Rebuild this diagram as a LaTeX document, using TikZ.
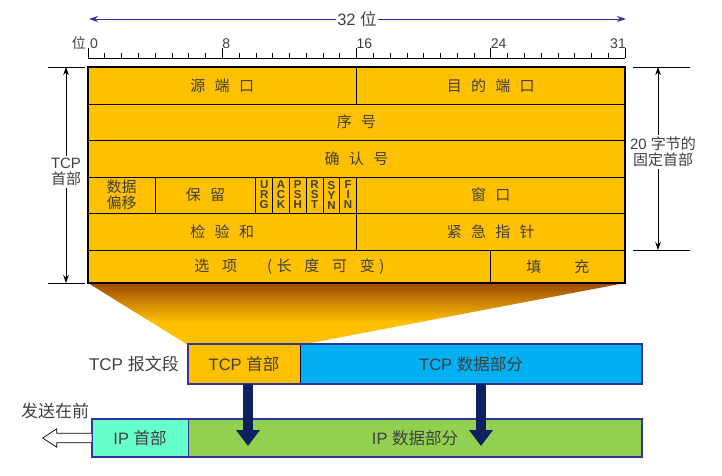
\documentclass[tikz,border=0pt]{standalone}
\usepackage{fontspec}
\setmainfont{Liberation Sans}
\newfontfamily\cjk{Noto Sans CJK SC}
\usetikzlibrary{arrows.meta}

\definecolor{hdrgold}{HTML}{FFC000}
\definecolor{txtgray}{HTML}{404040}
\definecolor{rulenavy}{HTML}{333399}
\definecolor{tcpblue}{HTML}{00B0F0}
\definecolor{ipmint}{HTML}{66FFCC}
\definecolor{ipgreen}{HTML}{92D050}
\definecolor{dkbrown}{HTML}{9C4A06}
\definecolor{arrownavy}{HTML}{0D2160}

% letter spacing between CJK characters
\newcommand\gap{\hspace{0.62em}}
\newcommand\widegap{\hspace{0.85em}}
% one header field: name, x1, y1, x2, y2, text
\newcommand\tcpfield[6]{%
  \node[field, minimum width={#4-#2}, minimum height={#5-#3}]
    (#1) at ({(#2+#4)/2},{(#3+#5)/2}) {#6};}

\tikzset{
  field/.style={draw=black, line width=0.7pt, fill=hdrgold, inner sep=0pt,
    text=txtgray, font=\cjk\fontsize{15}{17}\selectfont},
  flag/.style={field, align=center,
    font=\bfseries\fontsize{11.5}{10}\selectfont},
  label/.style={text=txtgray, inner sep=1pt, font=\fontsize{15}{16}\selectfont},
  seg/.style={draw=black, line width=0.6pt, inner sep=0pt, text=txtgray,
    font=\fontsize{16.5}{18}\selectfont},
  dim/.style={black, line width=0.6pt},
  dimtip/.style={-{Stealth[length=8pt,width=5.5pt]}, black, line width=0.6pt},
  downarrow/.style={arrownavy, line width=10pt,
    -{Triangle[length=16pt,width=23pt]}},
}

\begin{document}
\begin{tikzpicture}[x=1pt,y=-1pt]
\useasboundingbox (0,0) rectangle (722,475);

% width ruler
\node[label, font=\fontsize{16.5}{18}\selectfont] (width) at (357,19) {32 \cjk 位};
\coordinate (wl) at (89,19);
\coordinate (wr) at (626,19);
\draw[rulenavy, line width=0.9pt, -{Stealth[length=9pt,width=6pt]}] (width.west) -- (wl);
\draw[rulenavy, line width=0.9pt, -{Stealth[length=9pt,width=6pt]}] (width.east) -- (wr);

\draw[line width=0.6pt] (88,58) -- (625,58);
\foreach \i in {0,...,32}{
  \draw[line width=0.6pt] ({88+\i*16.78125},58) -- ++(0,-5);
}
\foreach \i in {0,8,16,24,32}{
  \draw[line width=0.6pt] ({88+\i*16.78125},58) -- ++(0,-10);
}
\node[label, anchor=south west, font=\fontsize{14}{15}\selectfont] (b0) at (89,50) {0};
\node[label, anchor=south west, font=\fontsize{14}{15}\selectfont] (b8) at ({87+8*16.78125},50) {8};
\node[label, anchor=south west, font=\fontsize{14}{15}\selectfont] (b16) at ({87+16*16.78125},50) {16};
\node[label, anchor=south west, font=\fontsize{14}{15}\selectfont] (b24) at ({87+24*16.78125},50) {24};
\node[label, anchor=south east, font=\fontsize{14}{15}\selectfont] (b31) at (627,50) {31};
\node[label, anchor=south east, font=\cjk\fontsize{14}{15}\selectfont] (bitword) at (87,51) {位};

% funnel from the header down to the segment header
\coordinate (fl) at (188,345);
\coordinate (fr) at (300,345);
\begin{scope}
  \clip (88,283) -- (625,283) -- (fr) -- (fl) -- cycle;
  \shade[top color=dkbrown, bottom color=hdrgold] (88,283) rectangle (625,322);
  \fill[hdrgold] (88,321.5) rectangle (625,346);
\end{scope}

% TCP header fields
\tcpfield{sport}{88}{67}{356.5}{104}{源\gap 端\gap 口}
\tcpfield{dport}{356.5}{67}{625}{104}{目\gap 的\gap 端\gap 口}
\tcpfield{seq}{88}{104}{625}{140}{序\gap 号}
\tcpfield{ack}{88}{140}{625}{177}{确\gap 认\gap 号}
\node[field, align=center, minimum width={155.1-88}, minimum height=36,
  font=\cjk\fontsize{15}{16.5}\selectfont]
  (off) at ({(88+155.1)/2},195) {数据\\偏移};
\tcpfield{rsv}{155.1}{177}{255.8}{213}{保\gap 留}
\node[flag, minimum width=16.8, minimum height=36] (urg) at (264.2,195) {U\\R\\G};
\node[flag, minimum width=16.8, minimum height=36] (ackf) at (281.0,195) {A\\C\\K};
\node[flag, minimum width=16.8, minimum height=36] (psh) at (297.8,195) {P\\S\\H};
\node[flag, minimum width=16.8, minimum height=36] (rst) at (314.6,195) {R\\S\\T};
\node[flag, minimum width=16.8, minimum height=36] (syn) at (331.4,195) {S\\Y\\N};
\node[flag, minimum width=16.8, minimum height=36] (fin) at (348.1,195) {F\\I\\N};
\tcpfield{win}{356.5}{177}{625}{213}{窗\gap 口}
\tcpfield{chk}{88}{213}{356.5}{250}{检\gap 验\gap 和}
\tcpfield{urp}{356.5}{213}{625}{250}{紧\gap 急\gap 指\gap 针}
\tcpfield{opt}{88}{250}{490.8}{283}%
  {选\widegap 项\hspace{2em}(\hspace{0.3em}长\widegap 度\widegap 可\widegap 变\hspace{0.3em})}
\tcpfield{pad}{490.8}{250}{625}{283}{填\hspace{2.2em}充}

% outer frame of the header
\node[draw=black, line width=2pt, inner sep=0pt, minimum width=537,
  minimum height=216] (hdr) at (356.5,175) {};

% header length dimensions
\draw[dim] (48,67) -- (85,67);
\draw[dim] (48,283) -- (85,283);
\node[label, align=center, fill=white, inner sep=2pt] (hlen) at (66,172) {TCP\\\cjk 首部};
\coordinate (hlt) at (66,67);
\coordinate (hlb) at (66,283);
\draw[dimtip] (hlen.north) -- (hlt);
\draw[dimtip] (hlen.south) -- (hlb);

\draw[dim] (633,67) -- (690,67);
\draw[dim] (633,250) -- (690,250);
\node[label, align=center, fill=white, inner sep=2pt] (flen) at (663,152)
  {20 {\cjk 字节的}\\\cjk 固定首部};
\coordinate (flt) at (658,67);
\coordinate (flb) at (658,250);
\draw[dimtip] (flen.north -| flt) -- (flt);
\draw[dimtip] (flen.south -| flb) -- (flb);

% TCP segment
\node[seg, fill=hdrgold, minimum width=112, minimum height=40] (tcph) at (244,364) {TCP \cjk 首部};
\node[seg, fill=tcpblue, minimum width=342, minimum height=40] (tcpd) at (471,364) {TCP \cjk 数据部分};
\draw[rulenavy, line width=1.8pt] (tcph.north west) rectangle (tcpd.south east);
\node[label, anchor=east, font=\fontsize{17}{18}\selectfont] (seglabel) at (180,364) {TCP \cjk 报文段};

% IP datagram
\node[seg, fill=ipmint, minimum width=96, minimum height=38] (iph) at (140,438) {IP \cjk 首部};
\node[seg, fill=ipgreen, minimum width=454, minimum height=38] (ipd) at (415,438) {IP \cjk 数据部分};
\draw[rulenavy, line width=1.4pt] (iph.north east) -- (iph.south east);
\draw[rulenavy, line width=1.8pt] (iph.north west) rectangle (ipd.south east);

% encapsulation arrows
\coordinate (a1) at (248,446);
\coordinate (a2) at (481,446);
\draw[downarrow] (tcph.south -| a1) -- (a1);
\draw[downarrow] (tcpd.south -| a2) -- (a2);

% sending direction
\node[label, font=\cjk\fontsize{17}{18}\selectfont] (sendfirst) at (55,411) {发送在前};
\draw[line width=0.7pt, fill=white] (iph.west) ++(0,-4.7) -- ++(-35,0) -- ++(0,-4.5)
  -- ++(-14,9.2) -- ++(14,9.2) -- ++(0,-4.5) -- ++(35,0);
\end{tikzpicture}
\end{document}
